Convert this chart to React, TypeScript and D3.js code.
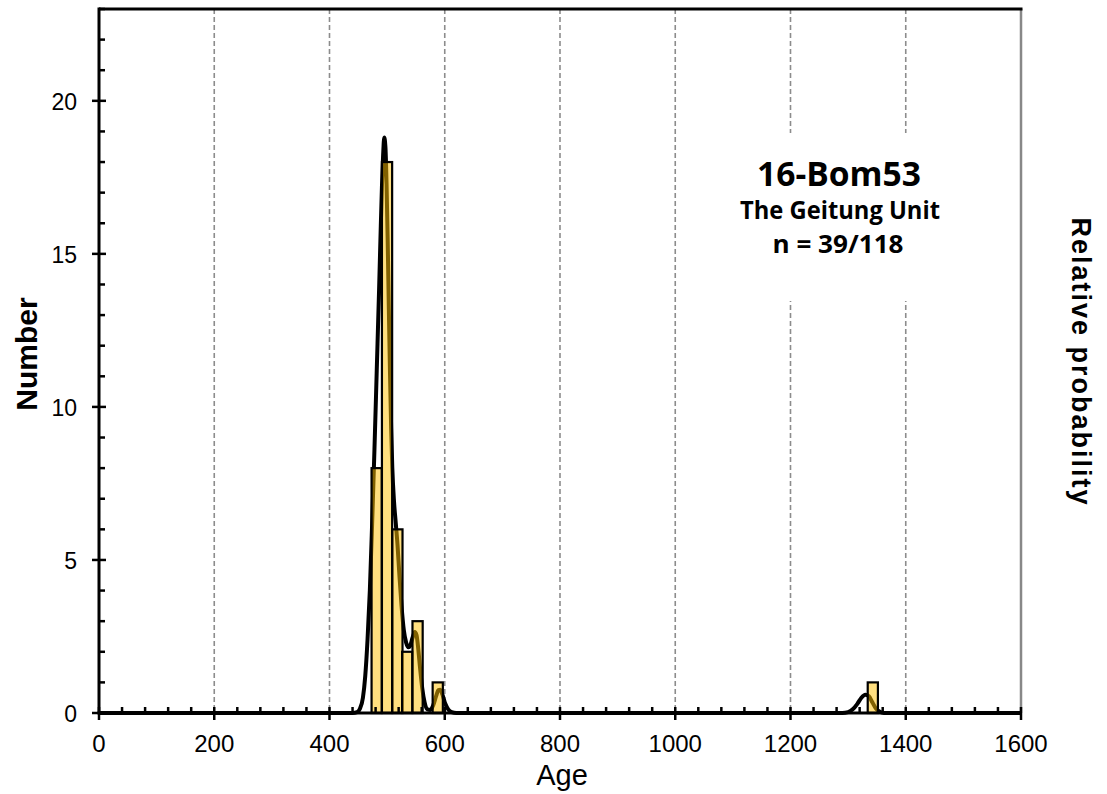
import React from "react";
import * as d3 from "d3";

// ---- data ----
const binStarts = [473, 491, 509, 526, 544, 579, 1334];
const binCounts = [8, 18, 6, 2, 3, 1, 1];
const binWidth = 17.7;

const pdpAges = [0, 440, 448, 453, 458, 462, 466, 470, 474, 478, 482, 486, 489, 491, 493, 495, 497, 499, 501, 503, 505, 507, 509, 512, 515, 518, 521, 525, 529, 533, 537, 540, 544, 548, 551, 554, 557, 561, 565, 570, 575, 580, 585, 589, 592, 596, 601, 606, 612, 620, 1290, 1300, 1308, 1316, 1323, 1330, 1336, 1342, 1348, 1355, 1362, 1600];
const pdpValues = [0, 0, 0.03, 0.15, 0.5, 1.2, 2.4, 4.0, 6.2, 8.6, 11.2, 13.8, 15.9, 17.2, 18.2, 18.8, 18.5, 17.3, 15.4, 13.2, 11.1, 9.3, 8.0, 6.9, 6.2, 5.5, 4.6, 3.5, 2.7, 2.3, 2.15, 2.2, 2.45, 2.65, 2.55, 2.1, 1.5, 0.8, 0.35, 0.12, 0.1, 0.25, 0.55, 0.75, 0.76, 0.6, 0.3, 0.12, 0.03, 0, 0, 0.03, 0.12, 0.3, 0.5, 0.6, 0.55, 0.35, 0.15, 0.04, 0, 0];

const xTicks = [0, 200, 400, 600, 800, 1000, 1200, 1400, 1600];
const yTicks = [0, 5, 10, 15, 20];
const gridAges = [200, 400, 600, 800, 1000, 1200, 1400];

const titleLines = ["16-Bom53", "The Geitung Unit", "n = 39/118"];

export default function App() {
  const W = 1107, H = 794;
  const x = d3.scaleLinear().domain([0, 1600]).range([99, 1021]);
  const y = d3.scaleLinear().domain([0, 23]).range([713, 9]);

  const minorX = d3.range(0, 1601, 40).filter((v) => v % 200 !== 0);
  const minorY = d3.range(0, 24, 1).filter((v) => v % 5 !== 0);

  const pts: [number, number][] = pdpAges.map((a, i) => [a, pdpValues[i]]);
  const line = d3
    .line<[number, number]>()
    .x((d) => x(d[0]))
    .y((d) => y(d[1]))
    .curve(d3.curveMonotoneX);

  const sans = "Liberation Sans";
  const bold = "Open Sans";

  return (
    <svg width={W} height={H} style={{ position: "absolute", left: 0, top: 0, background: "#fff" }}>
      <rect x={0} y={0} width={W} height={H} fill="#fff" />
      {/* grid */}
      {gridAges.map((g) => (
        <line key={g} x1={x(g)} x2={x(g)} y1={y(23)} y2={y(0)} stroke="#8c8c8c" strokeWidth={1.6} strokeDasharray="5,3" />
      ))}
      {/* white box behind annotation */}
      <rect x={715} y={133} width={240} height={168} fill="#fff" />
      {/* right axis */}
      <line x1={x(1600)} x2={x(1600)} y1={y(23)} y2={y(0)} stroke="#888" strokeWidth={2.5} />
      {/* pdp curve */}
      <path d={line(pts) || ""} fill="none" stroke="#000" strokeWidth={4} strokeLinejoin="round" />
      {/* histogram */}
      {binStarts.map((s, i) => (
        <rect
          key={i}
          x={x(s)}
          y={y(binCounts[i])}
          width={x(s + binWidth) - x(s)}
          height={y(0) - y(binCounts[i])}
          fill="#FFC000"
          fillOpacity={0.5}
          stroke="#000"
          strokeWidth={2.2}
        />
      ))}
      {/* frame */}
      <line x1={x(0)} x2={x(1600) + 1.5} y1={y(23)} y2={y(23)} stroke="#000" strokeWidth={3} />
      <line x1={x(0)} x2={x(0)} y1={y(23) - 1.5} y2={y(0)} stroke="#000" strokeWidth={3} />
      <line x1={x(0) - 1.5} x2={x(1600) + 1} y1={y(0)} y2={y(0)} stroke="#000" strokeWidth={3} />
      {/* x ticks */}
      {xTicks.map((t) => (
        <line key={"xt" + t} x1={x(t)} x2={x(t)} y1={y(0) - 6} y2={y(0) + 7} stroke="#000" strokeWidth={2.5} />
      ))}
      {minorX.map((t) => (
        <line key={"xm" + t} x1={x(t)} x2={x(t)} y1={y(0) - 6} y2={y(0)} stroke="#000" strokeWidth={2.5} />
      ))}
      <g fontFamily={sans}>
        {xTicks.map((t) => (
          <text key={"xl" + t} x={x(t)} y={752} textAnchor="middle" fontSize={24} fill="#000">
            {t}
          </text>
        ))}
      </g>
      {/* y ticks */}
      {yTicks.map((t) => (
        <line key={"yt" + t} x1={x(0) - 7} x2={x(0) + 7} y1={y(t)} y2={y(t)} stroke="#000" strokeWidth={2.5} />
      ))}
      {minorY.map((t) => (
        <line key={"ym" + t} x1={x(0)} x2={x(0) + 6} y1={y(t)} y2={y(t)} stroke="#000" strokeWidth={2.5} />
      ))}
      <g fontFamily={sans}>
        {yTicks.map((t) => (
          <text key={"yl" + t} x={77} y={y(t) + 9} textAnchor="end" fontSize={23} fill="#000">
            {t}
          </text>
        ))}
        {/* axis titles */}
        <text x={562} y={785} textAnchor="middle" fontSize={29} fill="#000">
          Age
        </text>
        <text transform="translate(37,354) rotate(-90)" textAnchor="middle" fontWeight="bold" fontSize={30} fill="#000">
          Number
        </text>
        <text transform="translate(1072,361) rotate(90)" textAnchor="middle" fontWeight="bold" fontSize={27} fill="#000" textLength={287} lengthAdjust="spacing">
          Relative probability
        </text>
      </g>
      {/* annotation */}
      <g fontFamily={bold} fontWeight="bold" fill="#000">
        <text x={839} y={186} textAnchor="middle" fontSize={34} textLength={164} lengthAdjust="spacingAndGlyphs">
          {titleLines[0]}
        </text>
        <text x={840} y={219} textAnchor="middle" fontSize={25} textLength={200} lengthAdjust="spacingAndGlyphs">
          {titleLines[1]}
        </text>
        <text x={838} y={253} textAnchor="middle" fontSize={25} textLength={131} lengthAdjust="spacingAndGlyphs">
          {titleLines[2]}
        </text>
      </g>
    </svg>
  );
}
